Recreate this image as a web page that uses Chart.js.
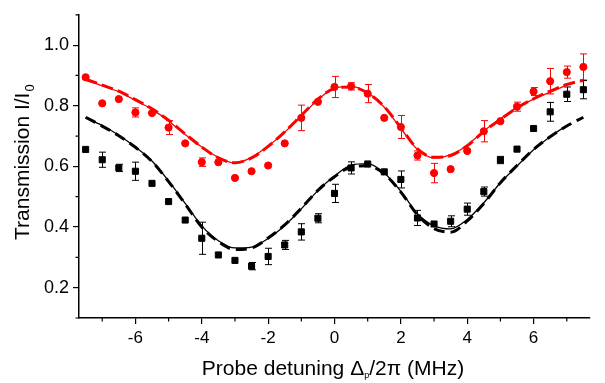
<!DOCTYPE html>
<html>
<head>
<meta charset="utf-8">
<script src="https://cdn.jsdelivr.net/npm/chart.js@4.4.0/dist/chart.umd.min.js"></script>
<style>
  html, body { margin: 0; padding: 0; background: #fff; }
  #wrap { width: 605px; height: 383px; }
</style>
</head>
<body>
<div id="wrap"><canvas id="chart"></canvas></div>
<script>
// detuning values (MHz) shared by the measured points and the fit curves
const detuning = [-7.5, -7, -6.5, -6, -5.5, -5, -4.5, -4, -3.5, -3, -2.5, -2, -1.5, -1, -0.5, 0,
  0.5, 1, 1.5, 2, 2.5, 3, 3.5, 4, 4.5, 5, 5.5, 6, 6.5, 7, 7.5];

// red circles + error bars
const redT = [0.894, 0.808, 0.822, 0.778, 0.776, 0.728, 0.676, 0.614, 0.614, 0.562, 0.584, 0.603, 0.676, 0.760, 0.813, 0.862,
  0.864, 0.840, 0.760, 0.730, 0.636, 0.578, 0.591, 0.651, 0.716, 0.749, 0.797, 0.847, 0.881, 0.911, 0.928];
const redErr = [0, 0, 0, 0.015, 0, 0.023, 0, 0.014, 0, 0, 0, 0, 0, 0.042, 0, 0.035,
  0.012, 0.030, 0, 0.038, 0.015, 0.032, 0, 0, 0.035, 0, 0.015, 0.013, 0.042, 0.020, 0.043];

// black squares + error bars
const blackT = [0.656, 0.622, 0.595, 0.584, 0.544, 0.484, 0.423, 0.363, 0.308, 0.290, 0.271, 0.303, 0.341, 0.384, 0.429, 0.511,
  0.595, 0.608, 0.582, 0.557, 0.430, 0.410, 0.419, 0.459, 0.517, 0.621, 0.657, 0.725, 0.780, 0.838, 0.853];
const blackErr = [0, 0.025, 0.012, 0.030, 0, 0, 0, 0.053, 0, 0, 0.012, 0.027, 0.015, 0.027, 0.015, 0.030,
  0.020, 0, 0, 0.028, 0.025, 0, 0.018, 0.020, 0.015, 0.012, 0, 0, 0.031, 0.024, 0.030];

// fit curves (solid thin / dashed thick)
const redFitSolid = [0.884, 0.866, 0.846, 0.818, 0.788, 0.750, 0.705, 0.664, 0.630, 0.611, 0.630, 0.667, 0.713, 0.766, 0.820, 0.858,
  0.864, 0.843, 0.795, 0.725, 0.656, 0.628, 0.638, 0.670, 0.717, 0.757, 0.794, 0.822, 0.845, 0.868, null];
const redFitDashed = [0.888, 0.868, 0.848, 0.820, 0.790, 0.752, 0.707, 0.664, 0.628, 0.612, 0.628, 0.666, 0.714, 0.768, 0.822, 0.857,
  0.862, 0.842, 0.797, 0.728, 0.658, 0.630, 0.636, 0.668, 0.715, 0.755, 0.793, 0.823, 0.848, 0.870, 0.884];
const blackFitSolid = [0.760, 0.735, 0.703, 0.664, 0.618, 0.552, 0.478, 0.404, 0.355, 0.331, 0.334, 0.362, 0.405, 0.460, 0.520, 0.568,
  0.604, 0.609, 0.578, 0.518, 0.444, 0.404, 0.394, 0.425, 0.480, 0.546, 0.601, 0.655, 0.698, 0.735, null];
const blackFitDashed = [0.762, 0.733, 0.701, 0.663, 0.616, 0.550, 0.476, 0.400, 0.352, 0.326, 0.331, 0.364, 0.407, 0.462, 0.521, 0.566,
  0.598, 0.602, 0.575, 0.515, 0.440, 0.395, 0.383, 0.420, 0.478, 0.546, 0.603, 0.656, 0.698, 0.733, 0.762];

// axes
const xTicks = [-6, -4, -2, 0, 2, 4, 6];
const xMinor = [-7, -5, -3, -1, 1, 3, 5, 7];
const yTicks = [0.2, 0.4, 0.6, 0.8, 1.0];
const yMinor = [0.1, 0.3, 0.5, 0.7, 0.9, 1.1];

const FONT = "'Liberation Sans', Arial, sans-serif";
const pts = vals => vals.map((v, i) => ({ x: detuning[i], y: v }));

// error bars under the markers
const errorBars = {
  id: 'errorBars',
  beforeDatasetsDraw(chart) {
    const { ctx, scales: { x, y } } = chart;
    [[redT, redErr, '#ff0000'], [blackT, blackErr, '#000000']].forEach(([vals, errs, col]) => {
      ctx.save();
      ctx.strokeStyle = col;
      ctx.lineWidth = 1;
      vals.forEach((v, i) => {
        if (!errs[i]) return;
        const px = Math.round(x.getPixelForValue(detuning[i])) + 0.5;
        const top = y.getPixelForValue(v + errs[i]);
        const bot = y.getPixelForValue(v - errs[i]);
        ctx.beginPath();
        ctx.moveTo(px, top); ctx.lineTo(px, bot);
        ctx.moveTo(px - 3.5, top); ctx.lineTo(px + 3.5, top);
        ctx.moveTo(px - 3.5, bot); ctx.lineTo(px + 3.5, bot);
        ctx.stroke();
      });
      ctx.restore();
    });
  }
};

// minor ticks and axis titles (with subscripts)
const axisExtras = {
  id: 'axisExtras',
  afterDraw(chart) {
    const { ctx, chartArea: a, scales: { x, y } } = chart;
    ctx.save();
    ctx.strokeStyle = '#000';
    ctx.lineWidth = 1.2;
    ctx.beginPath();
    xMinor.forEach(v => {
      const px = x.getPixelForValue(v);
      ctx.moveTo(px, a.bottom); ctx.lineTo(px, a.bottom + 3.5);
    });
    yMinor.forEach(v => {
      const py = y.getPixelForValue(v);
      ctx.moveTo(a.left, py); ctx.lineTo(a.left - 3.5, py);
    });
    ctx.stroke();

    ctx.fillStyle = '#000';
    ctx.textBaseline = 'alphabetic';
    ctx.textAlign = 'left';

    // x title
    const big = '21px ' + FONT, small = '9px ' + FONT;
    const p1 = 'Probe detuning \u0394', sub = 'p', p2 = '/2\u03c0 (MHz)';
    ctx.font = big; const w1 = ctx.measureText(p1).width, w3 = ctx.measureText(p2).width;
    ctx.font = small; const w2 = ctx.measureText(sub).width;
    let sx = 333 - (w1 + w2 + w3) / 2;
    const by = 375;
    ctx.font = big; ctx.fillText(p1, sx, by); sx += w1;
    ctx.font = small; ctx.fillText(sub, sx, by + 3); sx += w2;
    ctx.font = big; ctx.fillText(p2, sx, by);

    // y title
    ctx.translate(29, 240);
    ctx.rotate(-Math.PI / 2);
    ctx.font = big;
    const t = 'Transmission I/I';
    ctx.fillText(t, 0, 0);
    const tw = ctx.measureText(t).width;
    ctx.font = '13px ' + FONT;
    ctx.fillText('0', tw + 1, 5);
    ctx.restore();
  }
};

new Chart(document.getElementById('chart'), {
  type: 'line',
  data: {
    datasets: [
      { data: pts(redT), showLine: false, pointStyle: 'circle', pointRadius: 3.6, pointBorderWidth: 1,
        pointBackgroundColor: '#ff0000', pointBorderColor: '#ff0000' },
      { data: pts(blackT), showLine: false, pointStyle: 'rect', pointRadius: 4.3, pointBorderWidth: 1,
        pointBackgroundColor: '#000000', pointBorderColor: '#000000' },
      { data: pts(redFitSolid), borderColor: '#ff0000', borderWidth: 1.3, pointRadius: 0,
        cubicInterpolationMode: 'monotone' },
      { data: pts(redFitDashed), borderColor: '#ff0000', borderWidth: 3, borderDash: [12, 5], pointRadius: 0,
        cubicInterpolationMode: 'monotone' },
      { data: pts(blackFitSolid), borderColor: '#000000', borderWidth: 1.3, pointRadius: 0,
        cubicInterpolationMode: 'monotone' },
      { data: pts(blackFitDashed), borderColor: '#000000', borderWidth: 3, borderDash: [11, 6], pointRadius: 0,
        cubicInterpolationMode: 'monotone' }
    ]
  },
  options: {
    responsive: true,
    maintainAspectRatio: false,
    animation: false,
    layout: { padding: { top: 8, right: 15, left: 0, bottom: 0 } },
    plugins: { legend: { display: false }, tooltip: { enabled: false } },
    scales: {
      x: {
        type: 'linear', min: -7.7, max: 7.7,
        afterBuildTicks: s => { s.ticks = xTicks.map(v => ({ value: v })); },
        afterFit: s => { s.height = 65; },
        grid: { drawOnChartArea: false, tickLength: 6, color: '#000', lineWidth: 1.2 },
        border: { color: '#000', width: 1.5 },
        ticks: { color: '#000', font: { family: FONT, size: 17 }, padding: 4, maxRotation: 0,
          callback: v => String(v) }
      },
      y: {
        type: 'linear', min: 0.1, max: 1.1,
        afterBuildTicks: s => { s.ticks = yTicks.map(v => ({ value: v })); },
        afterFit: s => { s.width = 79; },
        grid: { drawOnChartArea: false, tickLength: 6, color: '#000', lineWidth: 1.2 },
        border: { color: '#000', width: 1.5 },
        ticks: { color: '#000', font: { family: FONT, size: 18 }, padding: 4,
          callback: v => v.toFixed(1) }
      }
    }
  },
  plugins: [errorBars, axisExtras]
});
</script>
</body>
</html>
